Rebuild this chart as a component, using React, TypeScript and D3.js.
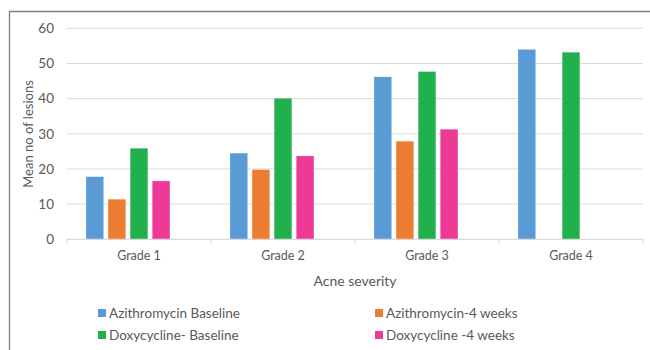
import React from "react";
import * as d3 from "d3";

const categories = ["Grade 1", "Grade 2", "Grade 3", "Grade 4"];
const seriesNames = ["Azithromycin Baseline", "Azithromycin-4 weeks", "Doxycycline- Baseline", "Doxycycline -4 weeks"];
const azithroBaseline = [17.8, 24.5, 46.2, 54.0];
const azithro4w = [11.4, 19.8, 27.9, null];
const doxyBaseline = [25.9, 40.1, 47.7, 53.2];
const doxy4w = [16.6, 23.7, 31.3, null];
const seriesColors = ["#5B9BD5", "#ED7D31", "#21B04B", "#EC3A96"];
const yTicks = [0, 10, 20, 30, 40, 50, 60];

const seriesValues = [azithroBaseline, azithro4w, doxyBaseline, doxy4w];

export default function App() {
  const W = 650, H = 350;
  const left = 67, right = 643, top = 28.3, bottom = 239.3;
  const font = "Lato, 'Open Sans', sans-serif";
  const textColor = "#595959";

  const x0 = d3.scaleBand<string>().domain(categories).range([left, right]).padding(0);
  // 5 slots per category (Excel layout with an empty 5th slot)
  const slots = [...seriesNames, "_empty"];
  const x1 = d3.scaleBand<string>().domain(slots).range([0, x0.bandwidth()]).paddingInner(0.2).paddingOuter(0.86);
  const y = d3.scaleLinear().domain([0, 60]).range([bottom, top]);

  const tickXs = [...categories.map((c) => x0(c)!), right];

  return (
    <svg width={W} height={H} style={{ position: "absolute", left: 0, top: 0, background: "#fff" }} fontFamily={font}>
      <rect x={0} y={0} width={W} height={H} fill="#fff" />
      <path d={`M9.5,${H + 5}V11.5H${W + 5}`} fill="none" stroke="#7f7f7f" strokeWidth={1.3} />
      {yTicks.map((t) => (
        <g key={t}>
          {t > 0 && <line x1={left} x2={right} y1={y(t)} y2={y(t)} stroke="#d9d9d9" strokeWidth={1} />}
          <text x={54} y={y(t)} dy="0.35em" textAnchor="end" fontSize={13.5} fill={textColor}>{t}</text>
        </g>
      ))}
      {seriesValues.map((vals, si) =>
        categories.map((c, ci) => {
          const v = vals[ci];
          if (v == null) return null;
          const bx = x0(c)! + x1(seriesNames[si])!;
          return (
            <rect key={`${si}-${ci}`} x={bx} y={y(v)} width={x1.bandwidth()} height={y(0) - y(v)} fill={seriesColors[si]} stroke="#ffffff" strokeOpacity={0.35} strokeWidth={0.6} />
          );
        })
      )}
      <line x1={left} x2={right} y1={bottom} y2={bottom} stroke="#d9d9d9" strokeWidth={1.2} />
      {tickXs.map((tx, i) => (
        <line key={i} x1={tx} x2={tx} y1={bottom} y2={bottom + 5} stroke="#d9d9d9" strokeWidth={1} />
      ))}
      {categories.map((c) => (
        <text key={c} x={x0(c)! + x0.bandwidth() / 2} y={256} dy="0.35em" textAnchor="middle" fontSize={12.5} fill={textColor}>{c}</text>
      ))}
      <text x={(left + right) / 2} y={281} dy="0.35em" textAnchor="middle" fontSize={14} fill={textColor}>Acne severity</text>
      <text transform={`translate(28,134) rotate(-90)`} textAnchor="middle" dy="0.35em" fontSize={13} fill={textColor}>Mean no of lesions</text>
      {seriesNames.map((s, i) => {
        const lx = i % 2 === 0 ? 98 : 375;
        const ly = i < 2 ? 313 : 335;
        return (
          <g key={s}>
            <rect x={lx} y={ly - 4} width={8} height={8} fill={seriesColors[i]} />
            <text x={lx + 11} y={ly} dy="0.35em" fontSize={13.5} fill={textColor}>{s}</text>
          </g>
        );
      })}
    </svg>
  );
}
